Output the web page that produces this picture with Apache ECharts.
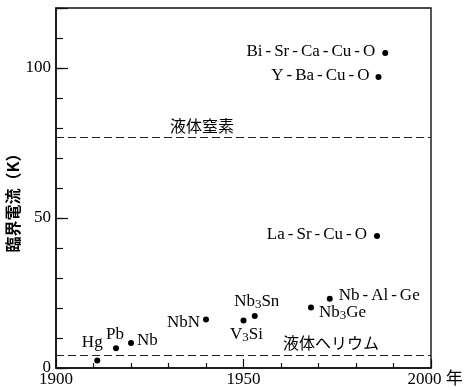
<!DOCTYPE html>
<html>
<head>
<meta charset="utf-8">
<script src="https://cdn.jsdelivr.net/npm/echarts@6/dist/echarts.min.js"></script>
<style>
html,body{margin:0;padding:0;background:#fff;}
#c{width:464px;height:390px;}
</style>
</head>
<body>
<div id="c"></div>
<script>
// ---- data ----
const materials = ['Hg', 'Pb', 'Nb', 'NbN', 'V3Si', 'Nb3Sn', 'Nb3Ge', 'Nb-Al-Ge', 'La-Sr-Cu-O', 'Y-Ba-Cu-O', 'Bi-Sr-Ca-Cu-O'];
const years = [1911, 1916, 1920, 1940, 1950, 1953, 1968, 1973, 1985.6, 1986, 1987.8];
const tcValues = [2.5, 6.6, 8.3, 16.2, 15.8, 17.3, 20.2, 23.1, 44, 97, 105];
const refTemps = [77, 4.2];
const refLabels = ['液体窒素', '液体ヘリウム'];
const xTickLabels = ['1900', '1950', '2000 年'];
const yTickLabels = ['0', '50', '100'];
const yAxisName = '臨界電流（K）';

// ---- label placement (style only) ----
const labelPlace = [
  {position: 'inside', offset: [-5, -16]},
  {position: 'inside', offset: [-1, -12]},
  {position: 'right', distance: 3, offset: [0, -1]},
  {position: 'left', distance: 3, offset: [0, 5]},
  {position: 'inside', offset: [3, 15]},
  {position: 'inside', offset: [2, -13]},
  {position: 'right', distance: 5, offset: [0, 7]},
  {position: 'right', distance: 6, offset: [0, -2]},
  {position: 'left', distance: 7, offset: [0, 0]},
  {position: 'left', distance: 6, offset: [0, 0]},
  {position: 'left', distance: 7, offset: [0, 0]}
];
const refLabelDist = [[114, 3], [227, 4]];

const SERIF = "'Liberation Serif', 'Noto Sans CJK JP', serif";
const JP = "'Noto Sans CJK JP', sans-serif";
const INK = '#000';

function richName(s) {
  return s.split(/(\d|-)/).filter(t => t !== '').map(t =>
    /\d/.test(t) ? '{s|' + t + '}' : (t === '-' ? '{h|-}' : '{n|' + t + '}')
  ).join('');
}

const pts = materials.map((m, i) => ({
  value: [years[i], tcValues[i]],
  name: m,
  label: Object.assign({show: true}, labelPlace[i])
}));

const chart = echarts.init(document.getElementById('c'), null, {renderer: 'canvas'});
chart.setOption({
  animation: false,
  backgroundColor: '#fff',
  grid: {left: 56, right: 33, top: 8, bottom: 22, show: true, borderColor: '#111', borderWidth: 1.4,
         containLabel: false, outerBoundsMode: 'none'},
  xAxis: {
    type: 'value', min: 1900, max: 2000, interval: 50,
    axisLine: {lineStyle: {color: '#111', width: 1.6}},
    axisTick: {inside: true, length: 9, lineStyle: {color: '#111', width: 1.2}},
    minorTick: {show: true, splitNumber: 5, length: 5, lineStyle: {color: '#111', width: 1.2}},
    splitLine: {show: false},
    axisLabel: {
      margin: 3, color: INK, fontFamily: SERIF, fontSize: 17,
      formatter: v => {
        const k = [1900, 1950, 2000].indexOf(v);
        if (k < 0) return '';
        return k === 2 ? '{r|' + xTickLabels[k] + '}' : xTickLabels[k];
      },
      rich: {r: {fontFamily: SERIF, fontSize: 17, color: INK, padding: [0, 0, 0, 8]}}
    }
  },
  yAxis: [{
    type: 'value', min: 0, max: 120, interval: 10,
    axisLine: {show: true, lineStyle: {color: '#111', width: 1.6}},
    axisTick: {show: true, inside: true, length: 7, lineStyle: {color: '#111', width: 1.2}},
    splitLine: {show: false},
    axisLabel: {
      margin: 5, color: INK, fontFamily: SERIF, fontSize: 17,
      formatter: v => { const k = [0, 50, 100].indexOf(v); return k >= 0 ? yTickLabels[k] : ''; }
    }
  }, {
    type: 'value', min: 0, max: 120, interval: 50, position: 'left',
    axisLine: {show: false},
    axisTick: {show: true, inside: true, length: 12, lineStyle: {color: '#111', width: 1.2}},
    axisLabel: {show: false},
    splitLine: {show: false}
  }],
  graphic: [{
    type: 'text', x: 13, y: 199, rotation: Math.PI / 2,
    style: {text: yAxisName, fill: INK, font: "bold 16px 'Noto Sans CJK JP'", align: 'center', verticalAlign: 'middle'}
  }],
  series: [{
    type: 'scatter',
    yAxisIndex: 0,
    symbol: 'circle',
    symbolSize: 6,
    itemStyle: {color: '#000', opacity: 1},
    data: pts,
    label: {
      color: INK,
      opacity: 1,
      formatter: p => richName(p.name),
      rich: {
        n: {fontFamily: SERIF, fontSize: 17, lineHeight: 20, verticalAlign: 'top', color: INK},
        h: {fontFamily: SERIF, fontSize: 17, lineHeight: 20, verticalAlign: 'top', color: INK, padding: [0, 3, 0, 3]},
        s: {fontFamily: SERIF, fontSize: 13, lineHeight: 13, verticalAlign: 'top', padding: [5, 0, 0, 0], color: INK}
      }
    },
    emphasis: {disabled: true},
    markLine: {
      silent: true,
      symbol: 'none',
      animation: false,
      lineStyle: {type: [8, 4], color: '#222', width: 1.2},
      data: refTemps.map((t, i) => ({
        yAxis: t,
        label: {
          show: true, position: 'insideStartTop', distance: refLabelDist[i],
          formatter: refLabels[i], color: INK, fontFamily: JP, fontSize: 16
        }
      }))
    }
  }]
});
</script>
</body>
</html>
